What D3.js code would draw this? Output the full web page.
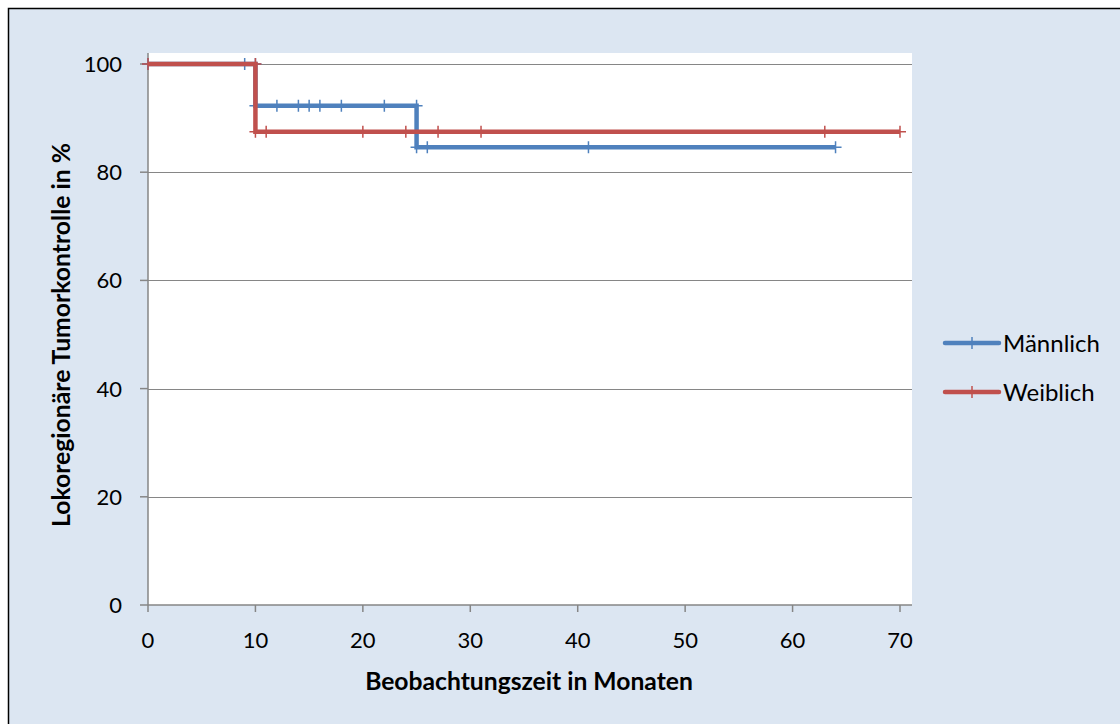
<!DOCTYPE html>
<html>
<head>
<meta charset="utf-8">
<script src="https://cdn.jsdelivr.net/npm/d3@7"></script>
<style>
  html, body { margin: 0; padding: 0; background: #ffffff; }
  svg { display: block; font-family: Lato, "Open Sans", sans-serif; }
</style>
</head>
<body>
<svg id="chart" width="1120" height="724"></svg>
<script>
// ---- data ----
const seriesNames = ["Männlich", "Weiblich"];
const seriesColors = ["#4F81BD", "#C0504D"];
const maleTime = [0, 9, 10, 10, 12, 14, 15, 16, 18, 22, 25, 25, 26, 41, 64];
const maleSurv = [100, 100, 100, 92.3, 92.3, 92.3, 92.3, 92.3, 92.3, 92.3, 92.3, 84.6, 84.6, 84.6, 84.6];
const femaleTime = [0, 10, 10, 11, 20, 24, 27, 31, 63, 70];
const femaleSurv = [100, 100, 87.5, 87.5, 87.5, 87.5, 87.5, 87.5, 87.5, 87.5];
const xTicks = [0, 10, 20, 30, 40, 50, 60, 70];
const yTicks = [0, 20, 40, 60, 80, 100];
const xTitle = "Beobachtungszeit in Monaten";
const yTitle = "Lokoregionäre Tumorkontrolle in %";

const svg = d3.select("#chart");

// background / chart frame
svg.append("rect").attr("x", 8.5).attr("y", 8.5).attr("width", 1200).attr("height", 800)
  .attr("fill", "#DCE6F2").attr("stroke", "#000").attr("stroke-width", 1.5);

const plot = { left: 148, right: 912, top: 53, bottom: 605 };
const x = d3.scaleLinear().domain([0, 70]).range([148, 900]);
const y = d3.scaleLinear().domain([0, 100]).range([605, 64]);

// plot area
svg.append("rect").attr("x", plot.left).attr("y", plot.top)
  .attr("width", plot.right - plot.left).attr("height", plot.bottom - plot.top).attr("fill", "#fff");

// gridlines
svg.append("g").selectAll("line").data(yTicks.filter(d => d > 0)).join("line")
  .attr("x1", plot.left).attr("x2", plot.right)
  .attr("y1", d => Math.round(y(d)) + 0.5).attr("y2", d => Math.round(y(d)) + 0.5)
  .attr("stroke", "#868686").attr("stroke-width", 1);

const gray = "#868686";
// y axis
const yAxis = svg.append("g");
yAxis.append("line").attr("x1", plot.left).attr("x2", plot.left).attr("y1", plot.top).attr("y2", plot.bottom)
  .attr("stroke", gray).attr("stroke-width", 1.5);
yAxis.selectAll("line.t").data(yTicks).join("line").attr("class", "t")
  .attr("x1", 140).attr("x2", plot.left).attr("y1", d => y(d)).attr("y2", d => y(d))
  .attr("stroke", gray).attr("stroke-width", 1.5);
yAxis.selectAll("text").data(yTicks).join("text")
  .attr("x", 122).attr("y", d => y(d)).attr("dy", "0.36em").attr("text-anchor", "end")
  .attr("font-size", 22).attr("fill", "#000").text(d => d);

// x axis
const xAxis = svg.append("g");
xAxis.append("line").attr("x1", plot.left).attr("x2", plot.right).attr("y1", plot.bottom).attr("y2", plot.bottom)
  .attr("stroke", gray).attr("stroke-width", 1.5);
xAxis.selectAll("line.t").data(xTicks).join("line").attr("class", "t")
  .attr("x1", d => x(d)).attr("x2", d => x(d)).attr("y1", plot.bottom).attr("y2", 612)
  .attr("stroke", gray).attr("stroke-width", 1.5);
xAxis.selectAll("text").data(xTicks).join("text")
  .attr("x", d => x(d)).attr("y", 640).attr("dy", "0.36em").attr("text-anchor", "middle")
  .attr("font-size", 22).attr("fill", "#000").text(d => d);

// titles (fit to reference extents)
function fit(sel, target) {
  const w = sel.node().getComputedTextLength();
  const fs = parseFloat(sel.attr("font-size"));
  sel.attr("font-size", fs * target / w);
}
const xt = svg.append("text").attr("x", 529).attr("y", 681).attr("dy", "0.36em")
  .attr("text-anchor", "middle").attr("font-weight", "bold").attr("font-size", 20).text(xTitle);
fit(xt, 328);
const yt = svg.append("text").attr("transform", "translate(61,335) rotate(-90)").attr("dy", "0.36em")
  .attr("text-anchor", "middle").attr("font-weight", "bold").attr("font-size", 20).text(yTitle);
fit(yt, 384);

// series
const series = [
  { name: seriesNames[0], color: seriesColors[0], pts: maleTime.map((t, i) => [t, maleSurv[i]]) },
  { name: seriesNames[1], color: seriesColors[1], pts: femaleTime.map((t, i) => [t, femaleSurv[i]]) }
];
const line = d3.line().x(d => x(d[0])).y(d => y(d[1]));
const arm = 6;
series.forEach(s => {
  const g = svg.append("g");
  g.append("path").attr("d", line(s.pts)).attr("fill", "none").attr("stroke", s.color)
    .attr("stroke-width", 4.5).attr("stroke-linejoin", "miter").attr("stroke-linecap", "butt");
  g.selectAll("path.m").data(s.pts).join("path").attr("class", "m")
    .attr("d", d => `M${x(d[0]) - arm},${y(d[1])}H${x(d[0]) + arm}M${x(d[0])},${y(d[1]) - arm}V${y(d[1]) + arm}`)
    .attr("stroke", s.color).attr("stroke-width", 1.5).attr("fill", "none");
});

// legend
const legY = [343, 392];
series.forEach((s, i) => {
  const g = svg.append("g");
  g.append("line").attr("x1", 945).attr("x2", 999).attr("y1", legY[i]).attr("y2", legY[i])
    .attr("stroke", s.color).attr("stroke-width", 4.5).attr("stroke-linecap", "round");
  g.append("path").attr("d", `M972,${legY[i] - arm}V${legY[i] + arm}`).attr("stroke", s.color).attr("stroke-width", 1.5);
  g.append("text").attr("x", 1003).attr("y", legY[i]).attr("dy", "0.36em").attr("font-size", 24)
    .attr("fill", "#000").text(s.name);
});
</script>
</body>
</html>
